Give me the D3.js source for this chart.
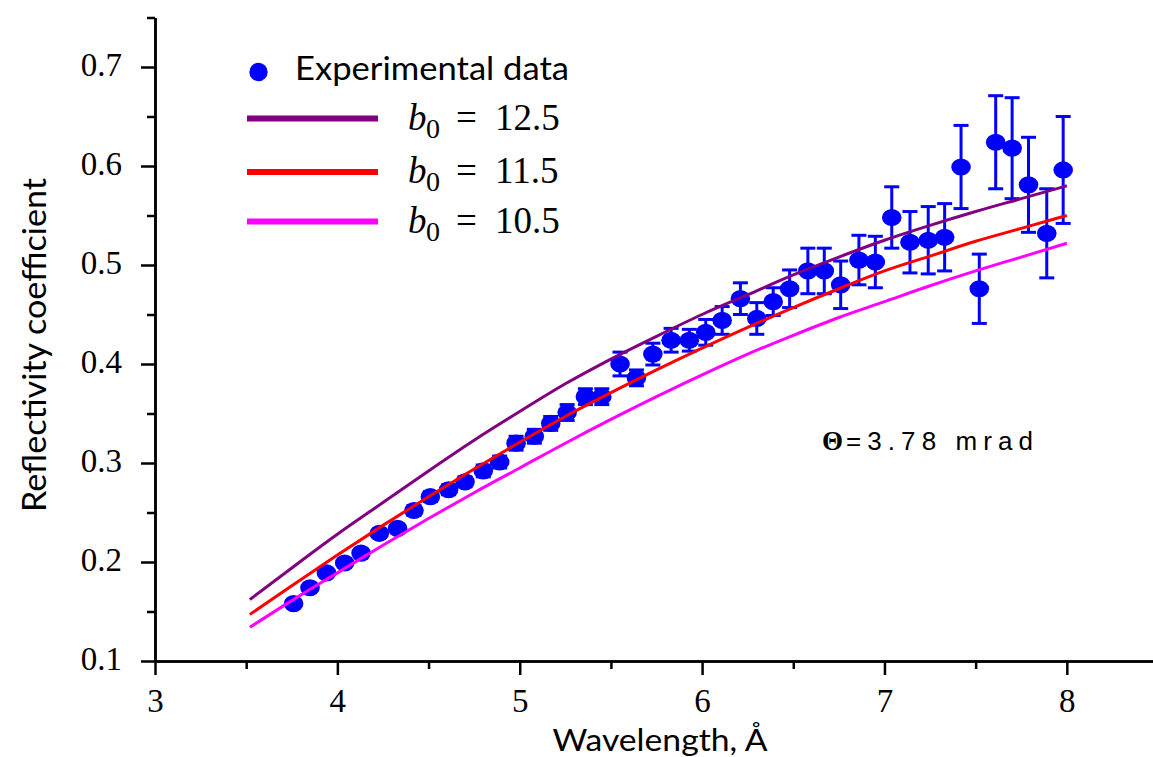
<!DOCTYPE html>
<html><head><meta charset="utf-8">
<script src="https://cdn.jsdelivr.net/npm/d3@7"></script>
<style>html,body{margin:0;padding:0;background:#fff;} svg{display:block;}</style>
</head><body>
<svg id="chart" width="1153" height="757"></svg>
<script>
// Experimental data
const wavelength = [3.76,3.85,3.94,4.04,4.13,4.23,4.33,4.42,4.51,4.61,4.70,4.80,4.89,4.98,5.08,5.17,5.26,5.36,5.45,5.55,5.64,5.73,5.83,5.93,6.02,6.11,6.21,6.30,6.39,6.48,6.58,6.67,6.76,6.86,6.95,7.04,7.14,7.24,7.33,7.42,7.52,7.61,7.70,7.79,7.89,7.98];
const reflectivity = [0.158,0.174,0.189,0.199,0.209,0.229,0.234,0.252,0.266,0.273,0.281,0.292,0.301,0.320,0.327,0.340,0.351,0.367,0.367,0.400,0.386,0.410,0.424,0.424,0.432,0.444,0.466,0.446,0.463,0.476,0.494,0.494,0.480,0.505,0.503,0.548,0.523,0.525,0.528,0.599,0.476,0.624,0.618,0.581,0.532,0.596];
const errors = [0.003,0.003,0.003,0.004,0.004,0.004,0.004,0.005,0.005,0.005,0.005,0.006,0.006,0.007,0.007,0.007,0.008,0.008,0.008,0.012,0.008,0.011,0.012,0.011,0.013,0.014,0.016,0.016,0.014,0.019,0.023,0.023,0.024,0.025,0.026,0.031,0.031,0.034,0.034,0.042,0.035,0.047,0.051,0.048,0.045,0.054];

// Theory curves
const lambdaCurve = [3.52,3.75,4.0,4.25,4.5,4.75,5.0,5.25,5.5,5.75,6.0,6.25,6.5,6.75,7.0,7.25,7.5,7.75,8.0];
const curveB125 = [0.162,0.194,0.228,0.260,0.292,0.323,0.352,0.380,0.405,0.428,0.450,0.470,0.490,0.508,0.525,0.540,0.554,0.567,0.580];
const curveB115 = [0.147,0.176,0.207,0.237,0.266,0.294,0.321,0.347,0.371,0.394,0.416,0.437,0.457,0.476,0.494,0.509,0.524,0.537,0.550];
const curveB105 = [0.134,0.161,0.189,0.217,0.244,0.270,0.295,0.320,0.344,0.367,0.389,0.410,0.429,0.447,0.463,0.479,0.494,0.508,0.522];

const seriesNames = ["12.5", "11.5", "10.5"];
const seriesColors = ["#800080", "#ff0000", "#ff00ff"];

const xMajorTicks = [3,4,5,6,7,8];
const xMinorTicks = [3.5,4.5,5.5,6.5,7.5,8.5];
const yMajorTicks = [0.1,0.2,0.3,0.4,0.5,0.6,0.7];
const yMinorTicks = [0.15,0.25,0.35,0.45,0.55,0.65,0.75];

const xTitle = "Wavelength, \u00C5";
const yTitle = "Reflectivity coefficient";
const annotation = "=3.78 mrad";

const svg = d3.select("#chart");
svg.append("rect").attr("width",1153).attr("height",757).attr("fill","#fff");

const x = d3.scaleLinear().domain([3, 8.5]).range([155, 1158]);
const y = d3.scaleLinear().domain([0.1, 0.75]).range([661, 17.5]);

const SERIF = "'Liberation Serif', 'DejaVu Serif', serif";
const SANS = "Lato, 'Open Sans', sans-serif";

// error bars and points
const pts = wavelength.map((w,i)=>({w, r: reflectivity[i], e: errors[i]}));
const eb = svg.append("g").attr("stroke","#0000ff").attr("stroke-width",3);
pts.forEach(d=>{
  eb.append("line").attr("x1",x(d.w)).attr("x2",x(d.w)).attr("y1",y(d.r-d.e)).attr("y2",y(d.r+d.e));
  [d.r-d.e, d.r+d.e].forEach(v=>{
    eb.append("line").attr("x1",x(d.w)-7.5).attr("x2",x(d.w)+7.5).attr("y1",y(v)).attr("y2",y(v));
  });
});
svg.append("g").selectAll("ellipse").data(pts).join("ellipse")
  .attr("cx",d=>x(d.w)).attr("cy",d=>y(d.r)).attr("rx",9.8).attr("ry",8.6).attr("fill","#0000ff");

// curves
const line = d3.line().x(d=>x(d[0])).y(d=>y(d[1])).curve(d3.curveMonotoneX);
[curveB125, curveB115, curveB105].forEach((c,k)=>{
  svg.append("path").datum(lambdaCurve.map((l,i)=>[l,c[i]]))
    .attr("d",line).attr("fill","none").attr("stroke",seriesColors[k]).attr("stroke-width",3);
});

// axes
function styleAxis(g){
  g.selectAll("path,line").attr("stroke","#000").attr("stroke-width",2.5);
  g.selectAll("text").attr("fill","#000").attr("font-family",SERIF).attr("font-size",33);
}
svg.append("g").attr("transform","translate(0,661)")
  .call(d3.axisBottom(x).tickValues(xMinorTicks).tickSize(8).tickSizeOuter(0).tickFormat(""))
  .call(styleAxis);
svg.append("g").attr("transform","translate(0,661)")
  .call(d3.axisBottom(x).tickValues(xMajorTicks).tickSize(14).tickSizeOuter(0).tickPadding(14).tickFormat(d3.format("d")))
  .call(styleAxis);
svg.append("g").attr("transform","translate(155,0)")
  .call(d3.axisLeft(y).tickValues(yMinorTicks).tickSize(8).tickSizeOuter(0).tickFormat(""))
  .call(styleAxis);
svg.append("g").attr("transform","translate(155,0)")
  .call(d3.axisLeft(y).tickValues(yMajorTicks).tickSize(14).tickSizeOuter(0).tickPadding(19).tickFormat(d3.format(".1f")))
  .call(styleAxis)
  .call(g=>g.selectAll("text").attr("dy","0.27em"));

// axis titles
svg.append("text").attr("x",660).attr("y",751).attr("text-anchor","middle")
  .attr("font-family",SANS).attr("font-size",31).attr("textLength",215).attr("lengthAdjust","spacingAndGlyphs")
  .text(xTitle);
svg.append("text").attr("transform","translate(46,345) rotate(-90)").attr("text-anchor","middle")
  .attr("font-family",SANS).attr("font-size",33).attr("textLength",334).attr("lengthAdjust","spacingAndGlyphs")
  .text(yTitle);

// legend
svg.append("circle").attr("cx",258.5).attr("cy",72).attr("r",9.2).attr("fill","#0000ff");
svg.append("text").attr("x",295).attr("y",80).attr("font-family",SANS).attr("font-size",32)
  .attr("textLength",274).attr("lengthAdjust","spacingAndGlyphs").text("Experimental data");
const legY = [118.5, 172, 221.5];
seriesNames.forEach((n,k)=>{
  svg.append("line").attr("x1",247).attr("x2",378).attr("y1",legY[k]).attr("y2",legY[k])
    .attr("stroke",seriesColors[k]).attr("stroke-width",6);
  const t = svg.append("text").attr("y",legY[k]+11).attr("font-family",SERIF).attr("font-size",37);
  t.append("tspan").attr("x",408).attr("font-style","italic").text("b");
  t.append("tspan").attr("x",426).attr("dy",8).attr("font-size",28).text("0");
  t.append("tspan").attr("x",456).attr("dy",-8).text("=");
  t.append("tspan").attr("x",495).text(n);
});

// annotation
svg.append("text").attr("x",822).attr("y",450).attr("font-family",SERIF).attr("font-size",27).attr("font-weight","bold").text("\u0398");
svg.append("text").attr("x",846).attr("y",450).attr("font-family","'Liberation Sans', Arial, sans-serif").attr("font-size",26)
  .attr("textLength",187).attr("lengthAdjust","spacing").text(annotation);
</script>
</body></html>
